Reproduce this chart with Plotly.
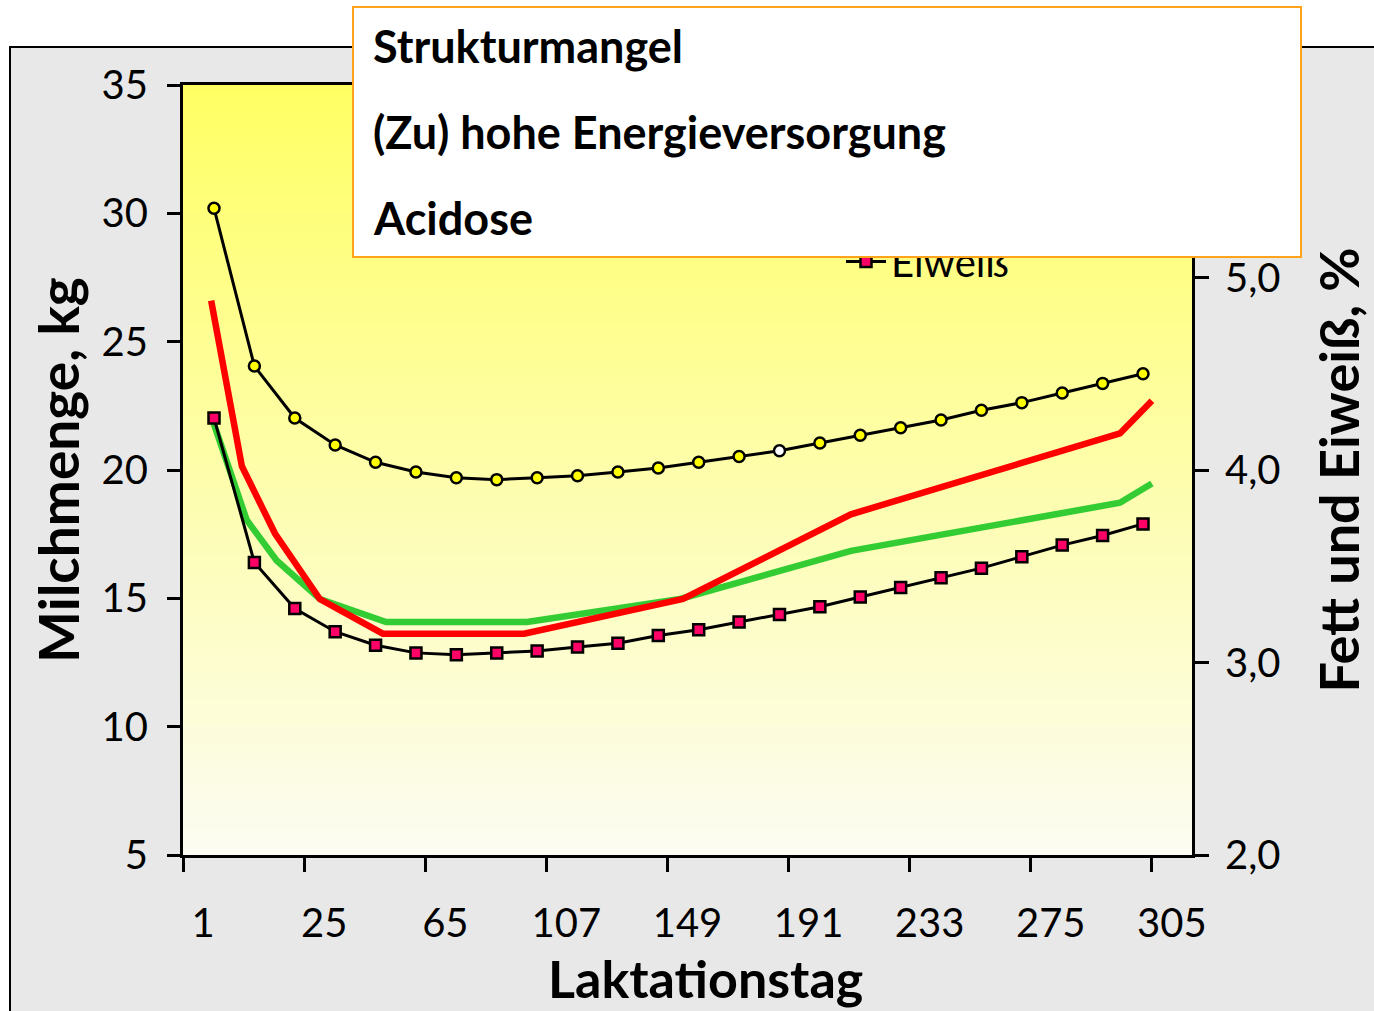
import plotly.graph_objects as go

# Tick labels of the lactation-day axis (one label every third category)
day_labels = ["1", "25", "65", "107", "149", "191", "233", "275", "305"]

# Sample number of the test-day measurements
sample_no = list(range(1, 25))

# Fat content, % (normal lactation)
fett = [5.36, 4.54, 4.27, 4.13, 4.04, 3.99, 3.96, 3.95, 3.96, 3.97, 3.99, 4.01,
        4.04, 4.07, 4.10, 4.14, 4.18, 4.22, 4.26, 4.31, 4.35, 4.40, 4.45, 4.50]

# Protein content, % (normal lactation)
eiweiss = [4.27, 3.52, 3.28, 3.16, 3.09, 3.05, 3.04, 3.05, 3.06, 3.08, 3.10, 3.14,
           3.17, 3.21, 3.25, 3.29, 3.34, 3.39, 3.44, 3.49, 3.55, 3.61, 3.66, 3.72]

# Fat and protein under acidosis (sketched curves)
acid_x = [0.93, 1.69, 2.51, 3.62, 5.18, 8.68, 12.61, 16.77, 23.43, 24.22]
acid_fett = [4.88, 4.02, 3.67, 3.33, 3.15, 3.15, 3.33, 3.77, 4.19, 4.36]
acid_eiweiss_x = [0.98, 1.81, 2.55, 3.62, 5.26, 8.75, 12.54, 16.77, 23.43, 24.22]
acid_eiweiss = [4.25, 3.74, 3.53, 3.33, 3.21, 3.21, 3.33, 3.58, 3.83, 3.93]

# Box text
box_lines = ["Strukturmangel", "(Zu) hohe Energieversorgung", "Acidose"]

FONT = "Lato"
W, H = 1374, 1011
L, R, T, B = 183, 182, 85, 156
pw, ph = W - L - R, H - T - B


def px_x(x):
    return (x - L) / pw


def px_y(y):
    return (H - B - y) / ph


fett_colors = ["#FFFF00"] * len(fett)
fett_colors[14] = "#FFFFFF"

fig = go.Figure()

# empty trace so the kg / day axes get their own subplot
fig.add_trace(go.Scatter(x=[], y=[], xaxis="x", yaxis="y", showlegend=False,
                         hoverinfo="skip"))
fig.add_trace(go.Scatter(
    x=acid_eiweiss_x, y=acid_eiweiss, xaxis="x2", yaxis="y2", mode="lines",
    line=dict(color="#33CC33", width=6.5), showlegend=False, hoverinfo="skip"))
fig.add_trace(go.Scatter(
    x=acid_x, y=acid_fett, xaxis="x2", yaxis="y2", mode="lines",
    line=dict(color="#FF0000", width=6.5), showlegend=False, hoverinfo="skip"))
fig.add_trace(go.Scatter(
    x=sample_no, y=fett, xaxis="x2", yaxis="y2", mode="lines+markers", name="Fett",
    line=dict(color="black", width=3),
    marker=dict(symbol="circle", size=11, color=fett_colors,
                line=dict(color="black", width=2.5))))
fig.add_trace(go.Scatter(
    x=sample_no, y=eiweiss, xaxis="x2", yaxis="y2", mode="lines+markers", name="Eiweiß",
    line=dict(color="black", width=3),
    marker=dict(symbol="square", size=11, color="#FF0066",
                line=dict(color="black", width=2.5))))

shapes = []
# outer grey chart frame
shapes.append(dict(type="rect", xref="paper", yref="paper",
                   x0=px_x(10), x1=px_x(1400), y0=px_y(1040), y1=px_y(47),
                   fillcolor="#E8E8E8", line=dict(color="black", width=2), layer="below"))
# vertical yellow gradient of the plot area
n = 90
top_c = (255, 255, 100)
bot_c = (252, 252, 242)
for i in range(n):
    f = i / (n - 1)
    c = tuple(round(top_c[k] + (bot_c[k] - top_c[k]) * f) for k in range(3))
    shapes.append(dict(type="rect", xref="paper", yref="paper",
                       x0=0, x1=1, y0=1 - (i + 1) / n, y1=1 - i / n + 0.001,
                       fillcolor="rgb(%d,%d,%d)" % c, line=dict(width=0), layer="below"))

annotations = []
# x-axis title
annotations.append(dict(xref="paper", yref="paper", x=px_x(705), y=px_y(978),
                        xanchor="center", yanchor="middle", text="<b>Laktationstag</b>",
                        showarrow=False, font=dict(family=FONT, size=52, color="black")))
# white box with orange border
annotations.append(dict(xref="paper", yref="paper", x=px_x(352), y=px_y(6),
                        xanchor="left", yanchor="top", text=" ", showarrow=False,
                        width=946, height=248, bgcolor="white",
                        bordercolor="#FFA31A", borderwidth=2, borderpad=0))
for i, t in enumerate(box_lines):
    annotations.append(dict(xref="paper", yref="paper", x=px_x(371), y=px_y(46 + 86 * i),
                            xanchor="left", yanchor="middle", text="<b>%s</b>" % t,
                            showarrow=False, font=dict(family=FONT, size=45, color="black")))

fig.update_layout(
    width=W, height=H,
    margin=dict(l=L, r=R, t=T, b=B),
    paper_bgcolor="white", plot_bgcolor="rgba(0,0,0,0)",
    separators=",.",
    font=dict(family=FONT, size=40, color="black"),
    shapes=shapes, annotations=annotations,
    showlegend=True,
    legend=dict(x=px_x(841), y=px_y(294), xanchor="left", yanchor="bottom",
                bgcolor="rgba(0,0,0,0)", font=dict(family=FONT, size=40),
                itemwidth=40, tracegroupgap=0),
    xaxis=dict(range=[-0.5, 24.5], tickmode="array", tickvals=list(range(0, 25, 3)),
               ticktext=day_labels, ticks="outside", ticklen=14, tickcolor="rgba(0,0,0,0)",
               ticklabelstandoff=17,
               minor=dict(ticks="outside", tick0=-0.5, dtick=3, ticklen=14, tickwidth=2.5,
                          tickcolor="black", showgrid=False),
               showline=True, linecolor="black", linewidth=3, mirror=True,
               showgrid=False, zeroline=False),
    xaxis2=dict(range=[0.2325, 25.213], overlaying="x", anchor="y", visible=False),
    yaxis=dict(range=[5, 35], tickmode="linear", tick0=5, dtick=5, ticks="outside",
               ticklen=13, tickwidth=2.5, tickcolor="black", ticklabelstandoff=11,
               showline=True, linecolor="black", linewidth=3,
               showgrid=False, zeroline=False,
               title=dict(text="<b>Milchmenge, kg</b>", font=dict(family=FONT, size=55),
                          standoff=5)),
    yaxis2=dict(range=[2, 6], overlaying="y", side="right", anchor="x",
                tickmode="array", tickvals=[2, 3, 4, 5], tickformat=".1f",
                ticks="outside", ticklen=14, tickwidth=2.5, tickcolor="black",
                ticklabelstandoff=8,
                showline=True, linecolor="black", linewidth=3,
                showgrid=False, zeroline=False,
                title=dict(text="<b>Fett und Eiweiß, %</b>", font=dict(family=FONT, size=54),
                           standoff=42)),
)

fig.write_html("out.html")
